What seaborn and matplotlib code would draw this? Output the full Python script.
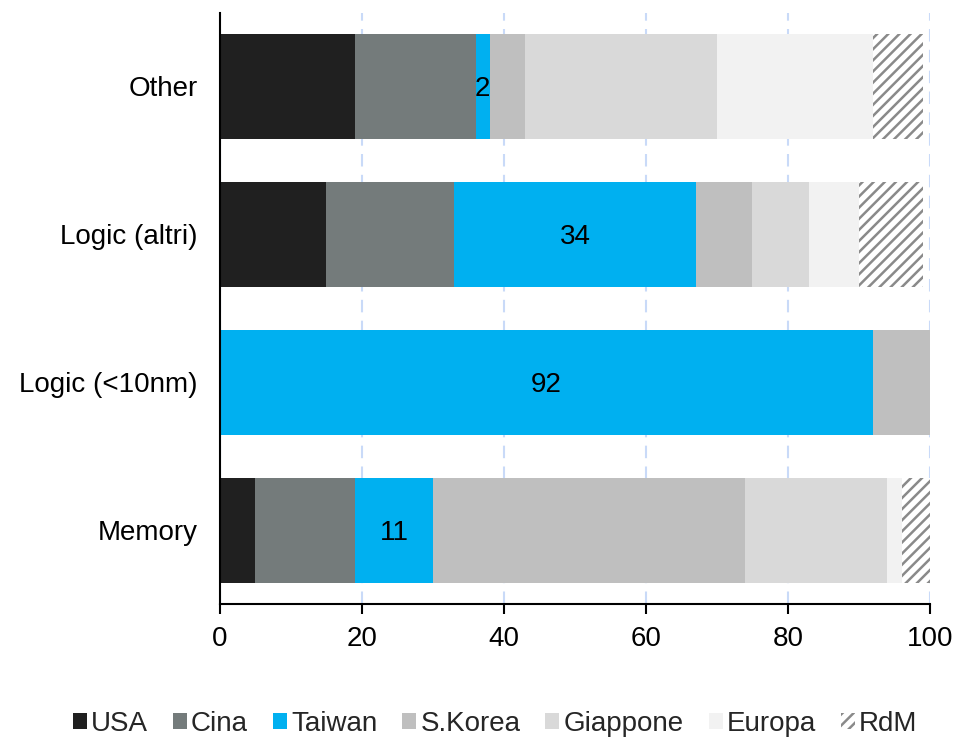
import matplotlib
matplotlib.use("Agg")
import matplotlib.pyplot as plt
from matplotlib.patches import Patch
import numpy as np
import pandas as pd
import seaborn as sns

# Share of capacity by region, per semiconductor segment (%)
categories = ["Other", "Logic (altri)", "Logic (<10nm)", "Memory"]
series_names = ["USA", "Cina", "Taiwan", "S.Korea", "Giappone", "Europa", "RdM"]
usa = [19, 15, 0, 5]
cina = [17, 18, 0, 14]
taiwan = [2, 34, 92, 11]
skorea = [5, 8, 8, 44]
giappone = [27, 8, 0, 20]
europa = [22, 7, 0, 2]
rdm = [7, 9, 0, 4]
x_ticks = [0, 20, 40, 60, 80, 100]

colors = ["#202020", "#747b7b", "#00b0f0", "#bfbfbf", "#d9d9d9", "#f2f2f2", "#ffffff"]
HATCH = "///"
HATCH_COLOR = "#8a8a8a"

sns.set_theme(style="white")
plt.rcParams["font.family"] = ["Liberation Sans", "DejaVu Sans"]
plt.rcParams["hatch.color"] = HATCH_COLOR
plt.rcParams["hatch.linewidth"] = 1.8

values = [usa, cina, taiwan, skorea, giappone, europa, rdm]
df = pd.DataFrame({name: vals for name, vals in zip(series_names, values)}, index=categories)
cum = df.cumsum(axis=1)

fig = plt.figure(figsize=(9.56, 7.39), dpi=100)
ax = fig.add_axes([0.2301, 0.1827, 0.7427, 0.8003])

# stacked bars: draw cumulative totals from the outermost segment inward
for name, color in reversed(list(zip(series_names, colors))):
    plot_df = pd.DataFrame({"cat": categories, "val": cum[name].values})
    hatch = HATCH if name == "RdM" else None
    sns.barplot(data=plot_df, y="cat", x="val", orient="h", ax=ax,
                color=color, saturation=1, width=0.71, hatch=hatch,
                linewidth=0, edgecolor=color if hatch is None else HATCH_COLOR)

# value labels on the Taiwan segment
start = cum["Cina"].values
for i, v in enumerate(df["Taiwan"].values):
    ax.text(start[i] + v / 2, i, f"{v}", ha="center", va="center_baseline",
            fontsize=20, color="black")

ax.set_xlim(0, 100)
ax.set_ylim(3.5, -0.5)
ax.set_xticks(x_ticks)
ax.set_xlabel("")
ax.set_ylabel("")
ax.set_axisbelow(True)
ax.xaxis.grid(True, color="#c9daf8", linestyle=(0, (6, 4)), linewidth=1.5)
ax.yaxis.grid(False)
for s in ["top", "right"]:
    ax.spines[s].set_visible(False)
for s in ["left", "bottom"]:
    ax.spines[s].set_color("black")
    ax.spines[s].set_linewidth(1.5)
ax.tick_params(axis="x", bottom=True, length=7, width=1.5, color="black",
               labelsize=20, pad=9, labelcolor="black")
ax.tick_params(axis="y", left=False, labelsize=20, pad=10, labelcolor="black")

handles = [Patch(facecolor=c, edgecolor=HATCH_COLOR if n == "RdM" else c,
                 hatch=HATCH if n == "RdM" else None, linewidth=0)
           for n, c in zip(series_names, colors)]
fig.legend(handles, series_names, loc="center", bbox_to_anchor=(0.518, 0.02),
           ncol=7, frameon=False, fontsize=20, handlelength=0.5, handleheight=0.5,
           handletextpad=0.15, columnspacing=0.9, borderpad=0)

fig.savefig("out.png", dpi=100)
